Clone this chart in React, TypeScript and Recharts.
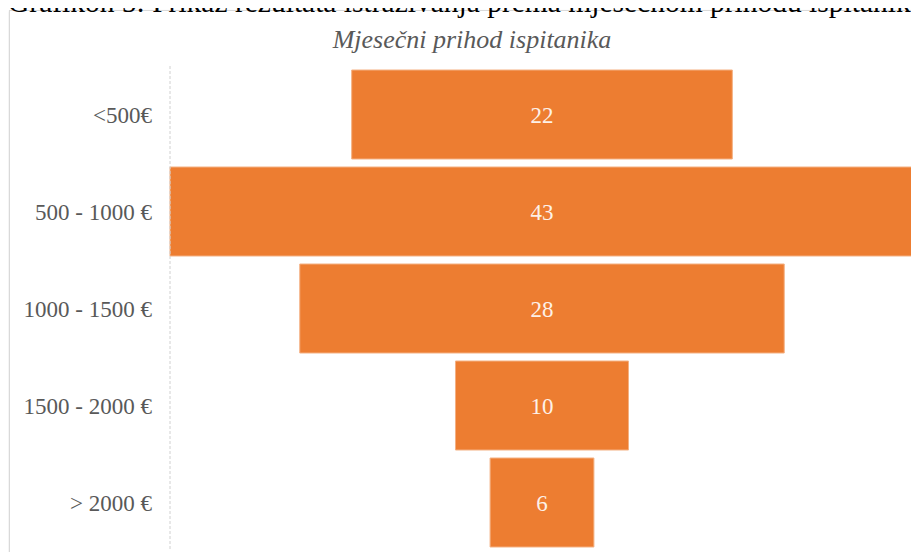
import { BarChart, Bar, XAxis, YAxis, LabelList } from "recharts";

const categories = ["<500€", "500 - 1000 €", "1000 - 1500 €", "1500 - 2000 €", "> 2000 €"];
const counts = [22, 43, 28, 10, 6];

const maxCount = Math.max(...counts);

// funnel: invisible offset bar + visible bar, stacked
const data = categories.map((c, i) => ({
  cat: c,
  pad: (maxCount - counts[i]) / 2,
  value: counts[i],
}));

const serif = "'Liberation Serif', 'Times New Roman', serif";

export default function App() {
  return (
    <div style={{ position: "relative", width: 919, height: 560, margin: -8, overflow: "hidden", background: "#fff" }}>
      <div
        style={{
          position: "absolute",
          left: 9,
          top: 10,
          width: 940,
          height: 580,
          border: "1px solid #d9d9d9",
          background: "#fff",
          boxShadow: "0 1px 2px rgba(0,0,0,0.12)",
        }}
      />
      <div
        style={{
          position: "absolute",
          left: 8,
          top: -12,
          lineHeight: 1,
          whiteSpace: "nowrap",
          fontFamily: serif,
          fontSize: 29.5,
          color: "#000",
        }}
      >
        Grafikon 5: Prikaz rezultata istraživanja prema mjesečnom prihodu ispitanika
      </div>
      <div
        style={{
          position: "absolute",
          left: 0,
          top: 25,
          width: 944,
          textAlign: "center",
          fontFamily: serif,
          fontStyle: "italic",
          fontSize: 26,
          color: "#595959",
        }}
      >
        Mjesečni prihod ispitanika
      </div>
      <div style={{ position: "absolute", left: 0, top: 0 }}>
        <BarChart
          width={919}
          height={560}
          data={data}
          layout="vertical"
          margin={{ top: 66, right: 5, bottom: 9, left: 0 }}
          barCategoryGap={4}
        >
          <XAxis type="number" hide domain={[0, maxCount]} />
          <YAxis
            type="category"
            dataKey="cat"
            width={170}
            tickLine={false}
            tickMargin={12}
            axisLine={{ stroke: "#d0d0d0", strokeDasharray: "3 2" }}
            tick={{ fill: "#595959", fontSize: 23, fontFamily: serif }}
          />
          <Bar dataKey="pad" stackId="a" fill="transparent" isAnimationActive={false} />
          <Bar dataKey="value" stackId="a" fill="#ed7d31" stroke="#f4b183" strokeWidth={1} isAnimationActive={false}>
            <LabelList
              dataKey="value"
              position="center"
              fill="#fdf1e8"
              style={{ fontFamily: serif, fontSize: 23 }}
            />
          </Bar>
        </BarChart>
      </div>
    </div>
  );
}
